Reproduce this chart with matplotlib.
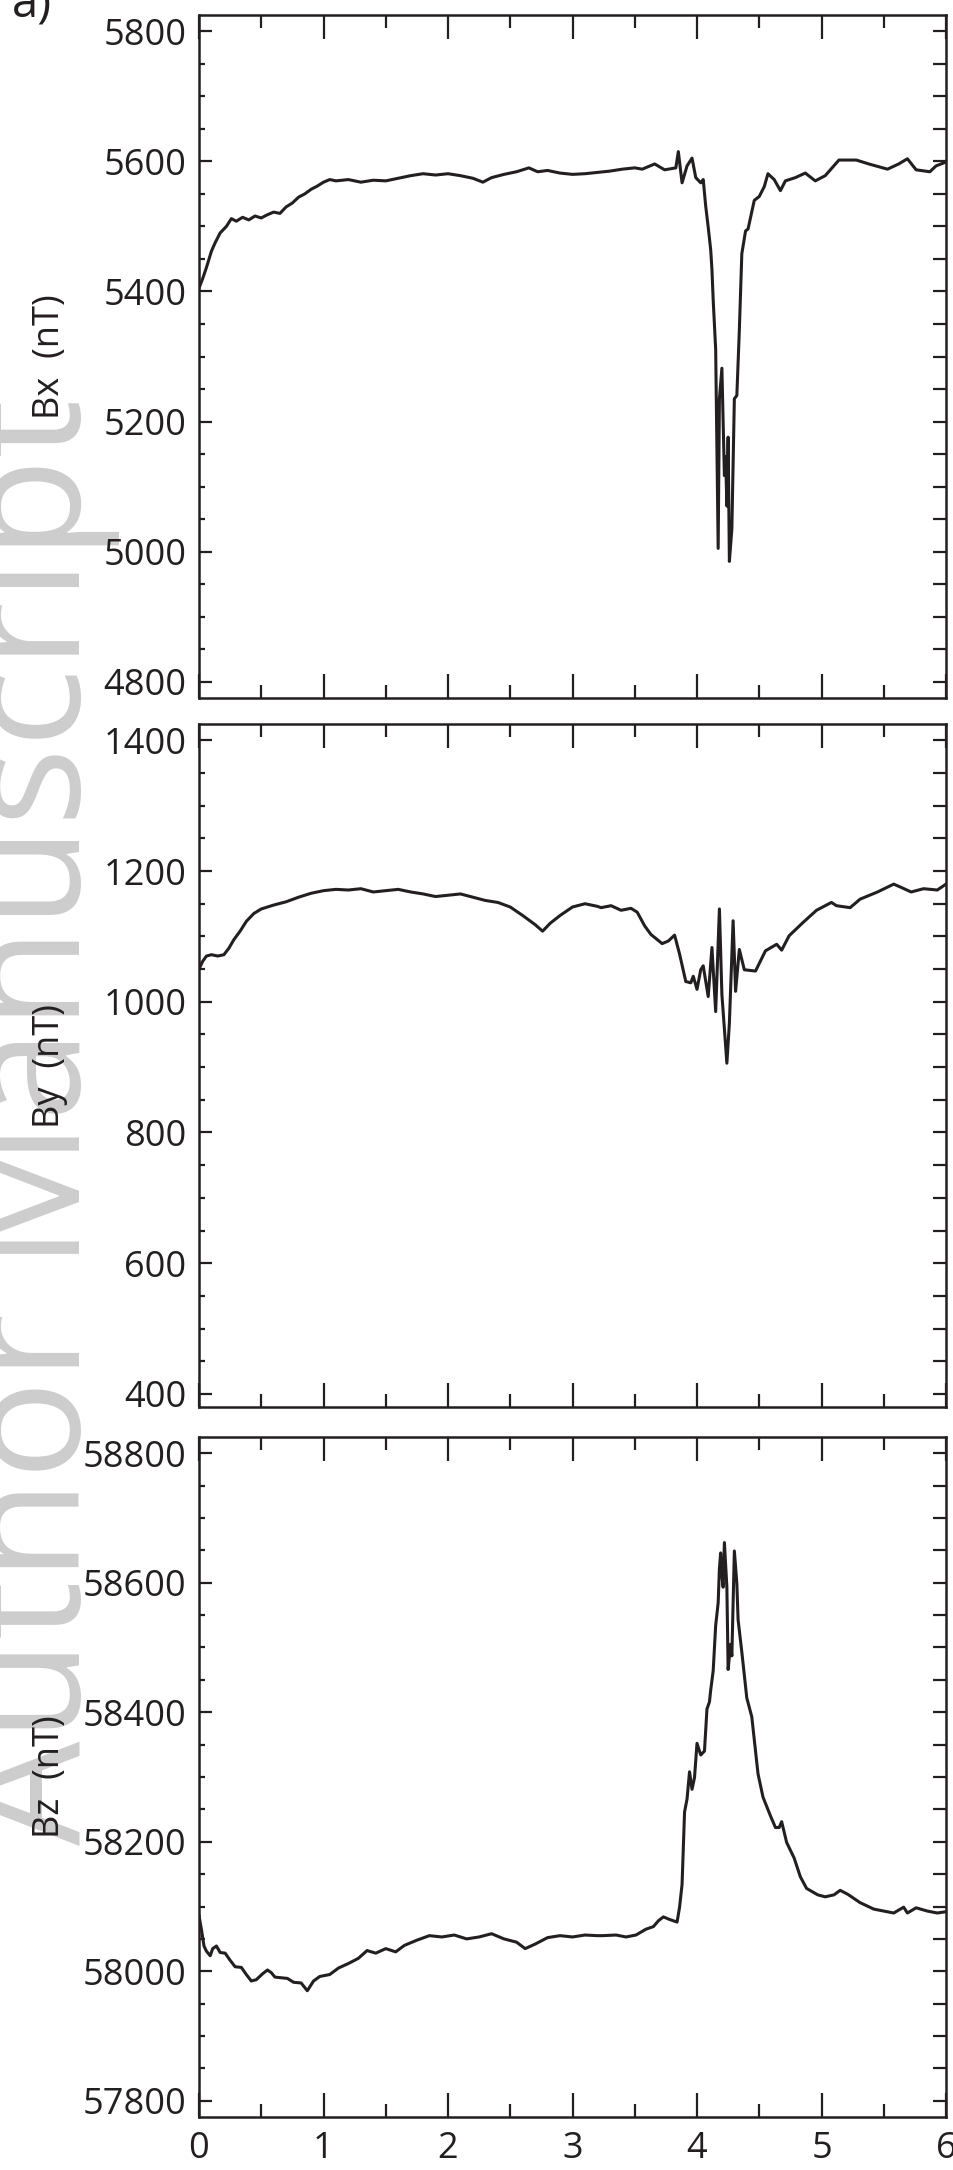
import matplotlib
matplotlib.use("Agg")
import matplotlib.pyplot as plt
import numpy as np
from matplotlib.ticker import MultipleLocator

# ---------------- data ----------------
time_ticks = [0, 1, 2, 3, 4, 5, 6]
tick_labels = ["0", "1", "2", "3", "4", "5", "6"]

bx_t = [0.00, 0.03, 0.06, 0.10, 0.13, 0.17, 0.22, 0.26, 0.30, 0.35, 0.40, 0.45, 0.50, 0.55,
        0.60, 0.65, 0.70, 0.75, 0.80, 0.85, 0.90, 0.95, 1.00, 1.05, 1.10, 1.20, 1.30, 1.40,
        1.50, 1.60, 1.70, 1.80, 1.90, 2.00, 2.10, 2.20, 2.28, 2.35, 2.45, 2.55, 2.65, 2.72,
        2.80, 2.90, 3.00, 3.10, 3.20, 3.30, 3.40, 3.50,
        3.56, 3.66, 3.74, 3.83, 3.85, 3.88, 3.92, 3.96, 3.99, 4.03, 4.05, 4.07, 4.09, 4.11,
        4.12, 4.13, 4.15, 4.17, 4.18, 4.20, 4.22, 4.23, 4.24, 4.25, 4.26, 4.28, 4.30, 4.32,
        4.34, 4.36, 4.39, 4.41, 4.46, 4.50, 4.54, 4.57, 4.62, 4.67, 4.71, 4.79, 4.87, 4.95,
        5.03, 5.14, 5.28, 5.38, 5.53, 5.62, 5.69, 5.76, 5.87, 5.92, 6.00]
bx_v = [5405, 5420, 5437, 5462, 5475, 5490, 5500, 5512, 5508, 5514, 5510, 5516, 5513, 5518,
        5522, 5520, 5530, 5536, 5545, 5550, 5557, 5562, 5568, 5572, 5570, 5572, 5568, 5571,
        5570, 5574, 5578, 5581, 5579, 5581, 5578, 5574, 5568, 5575, 5580, 5584, 5590, 5584,
        5586, 5582, 5580, 5581, 5583, 5585, 5588, 5590,
        5588, 5596, 5587, 5590, 5615, 5567, 5593, 5605, 5575, 5567, 5572, 5531, 5499, 5464,
        5434, 5387, 5311, 5005, 5235, 5282, 5117, 5146, 5070, 5176, 4985, 5035, 5235, 5240,
        5340, 5458, 5493, 5496, 5540, 5546, 5561, 5581, 5572, 5555, 5570, 5575, 5582, 5570,
        5578, 5602, 5602, 5596, 5588, 5596, 5604, 5587, 5584, 5593, 5599]

by_t = [0.00, 0.03, 0.06, 0.10, 0.15, 0.20, 0.24, 0.28, 0.33, 0.38, 0.44, 0.50, 0.60, 0.70,
        0.80, 0.90, 1.00, 1.10, 1.20, 1.30, 1.40, 1.50, 1.60, 1.70, 1.80, 1.90, 2.00, 2.10,
        2.20, 2.30, 2.40, 2.50, 2.60, 2.70, 2.76, 2.82, 2.90, 3.00, 3.10, 3.20,
        3.23, 3.31, 3.39, 3.47, 3.52, 3.58, 3.63, 3.72, 3.77, 3.82, 3.86, 3.91, 3.95, 3.97,
        4.00, 4.03, 4.05, 4.09, 4.12, 4.15, 4.18, 4.20, 4.24, 4.26, 4.29, 4.31, 4.34, 4.38,
        4.47, 4.55, 4.64, 4.68, 4.74, 4.85, 4.96, 5.08, 5.12, 5.23, 5.31, 5.45, 5.58, 5.64,
        5.72, 5.82, 5.93, 6.00]
by_v = [1050, 1062, 1070, 1072, 1070, 1072, 1082, 1095, 1108, 1123, 1135, 1142, 1148, 1153,
        1160, 1166, 1170, 1172, 1171, 1173, 1168, 1170, 1172, 1168, 1165, 1161, 1163, 1165,
        1160, 1155, 1152, 1145, 1132, 1118, 1108, 1120, 1132, 1145, 1150, 1146,
        1144, 1147, 1140, 1143, 1137, 1116, 1103, 1089, 1093, 1102, 1073, 1031, 1029, 1039,
        1019, 1049, 1055, 1008, 1083, 985, 1142, 1011, 906, 967, 1124, 1016, 1080, 1049,
        1047, 1078, 1088, 1079, 1101, 1121, 1140, 1152, 1147, 1144, 1157, 1168, 1180, 1175,
        1168, 1173, 1171, 1180]

bz_t = [0.00, 0.02, 0.04, 0.06, 0.09, 0.11, 0.14, 0.17, 0.21, 0.25, 0.29, 0.34, 0.38, 0.42,
        0.46, 0.51, 0.55, 0.58, 0.61, 0.71, 0.76, 0.82, 0.87, 0.92, 0.97, 1.05, 1.12, 1.20,
        1.28, 1.35, 1.42, 1.50, 1.58, 1.65, 1.75, 1.85, 1.95, 2.05, 2.15, 2.25, 2.35, 2.45,
        2.55, 2.62, 2.70, 2.80, 2.90, 3.00, 3.10, 3.20,
        3.24, 3.35, 3.43, 3.51, 3.59, 3.65, 3.69, 3.73, 3.78, 3.84, 3.86, 3.88, 3.90, 3.92,
        3.94, 3.96, 3.98, 4.00, 4.03, 4.06, 4.08, 4.10, 4.11, 4.13, 4.15, 4.17, 4.18, 4.19,
        4.20, 4.21, 4.22, 4.24, 4.25, 4.27, 4.28, 4.30, 4.32, 4.33, 4.36, 4.40, 4.44, 4.49,
        4.53, 4.59, 4.63, 4.66, 4.68, 4.72, 4.78, 4.83, 4.88, 4.97, 5.03, 5.10, 5.15, 5.21,
        5.31, 5.42, 5.50, 5.58, 5.66, 5.69, 5.76, 5.85, 5.93, 6.00]
bz_v = [58086, 58064, 58039, 58031, 58024, 58035, 58039, 58029, 58028, 58017, 58007, 58006,
        57995, 57985, 57987, 57996, 58002, 57998, 57991, 57989, 57983, 57982, 57970, 57985,
        57992, 57995, 58005, 58012, 58020, 58032, 58028, 58035, 58030, 58040, 58048, 58055,
        58053, 58056, 58050, 58053, 58058, 58050, 58045, 58035, 58042, 58052, 58055, 58053,
        58056, 58055,
        58055, 58056, 58053, 58056, 58065, 58069, 58078, 58084, 58080, 58076, 58099, 58134,
        58246, 58266, 58308, 58281, 58299, 58352, 58334, 58340, 58405, 58416, 58434, 58464,
        58534, 58569, 58622, 58646, 58611, 58593, 58662, 58593, 58466, 58505, 58487, 58649,
        58599, 58543, 58493, 58422, 58393, 58305, 58269, 58240, 58222, 58222, 58231, 58199,
        58175, 58146, 58128, 58118, 58115, 58118, 58125, 58119, 58106, 58096, 58093, 58090,
        58099, 58090, 58098, 58093, 58090, 58092]

labels = ["Bx  (nT)", "By  (nT)", "Bz  (nT)"]
ylims = [(4775, 5825), (380, 1425), (57775, 58825)]
ymajor = [200, 200, 200]
yminor = [50, 50, 50]

# ---------------- styling ----------------
plt.rcParams['font.family'] = ['Open Sans', 'DejaVu Sans']
INK = "#231f20"

W, H = 954, 2170
fig = plt.figure(figsize=(W / 100, H / 100), dpi=100)
fig.patch.set_facecolor("white")


def rect(top, bottom, left=199, right=946):
    return [left / W, 1 - bottom / H, (right - left) / W, (bottom - top) / H]


panel_px = [(15, 698), (724, 1407), (1437, 2117)]
series = [(bx_t, bx_v), (by_t, by_v), (bz_t, bz_v)]

# watermark
fig.text(80 / W, 1 - 1845 / H, "Author Manuscript", rotation=90, rotation_mode="anchor",
         ha="left", va="baseline", fontsize=119, color="#cdcdcd", zorder=-5)

for i, ((top, bot), (t, v)) in enumerate(zip(panel_px, series)):
    ax = fig.add_axes(rect(top, bot))
    ax.set_facecolor("none")
    ax.plot(t, v, color=INK, lw=2.2, solid_joinstyle="round")
    ax.set_xlim(0, 6)
    ax.set_ylim(*ylims[i])
    ax.xaxis.set_major_locator(MultipleLocator(1))
    ax.xaxis.set_minor_locator(MultipleLocator(0.5))
    ax.yaxis.set_major_locator(MultipleLocator(ymajor[i]))
    ax.yaxis.set_minor_locator(MultipleLocator(yminor[i]))
    ax.tick_params(axis="x", which="major", direction="in", length=17.3, width=1.6,
                   top=True, bottom=True, color=INK, labelsize=26, labelcolor=INK, pad=10)
    ax.tick_params(axis="x", which="minor", direction="in", length=9.4, width=1.6,
                   top=True, bottom=True, color=INK)
    ax.tick_params(axis="y", which="major", direction="in", length=9.4, width=1.6,
                   left=True, right=False, color=INK, labelsize=26, labelcolor=INK, pad=9)
    ax.tick_params(axis="y", which="minor", direction="in", length=4.3, width=1.6,
                   left=True, right=False, color=INK)
    if i < 2:
        ax.tick_params(axis="x", labelbottom=False)
    else:
        ax.set_xticks(time_ticks)
        ax.set_xticklabels(tick_labels)
    for sp in ax.spines.values():
        sp.set_linewidth(1.8)
        sp.set_color(INK)
    ax.set_ylabel(labels[i], fontsize=26, color=INK)
    ax.yaxis.set_label_coords(-0.175, 0.5)

    # right-hand ticks: all the same length
    tw = ax.twinx()
    tw.set_ylim(*ylims[i])
    tw.yaxis.set_major_locator(MultipleLocator(yminor[i]))
    tw.tick_params(axis="y", which="major", direction="in", length=9.4, width=1.6,
                   right=True, labelright=False, color=INK)
    tw.tick_params(axis="y", which="minor", right=False)
    for sp in tw.spines.values():
        sp.set_visible(False)

fig.text(12 / W, 1 - 16 / H, "a)", fontsize=34, color=INK, ha="left", va="baseline")

fig.savefig("out.png", dpi=100, facecolor="white")
